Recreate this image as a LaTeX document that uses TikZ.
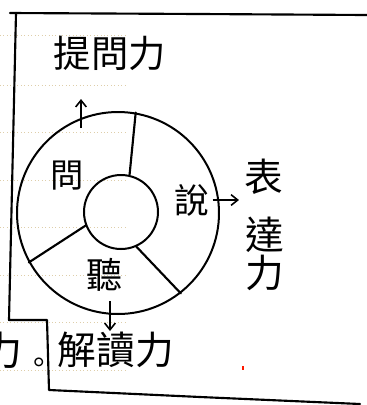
\documentclass[tikz,border=0pt]{standalone}
\usepackage{fontspec}
\newfontfamily\cjk{Noto Sans CJK TC}
\usetikzlibrary{arrows.meta}
\begin{document}
\begin{tikzpicture}[x=0.75pt,y=-0.75pt,
  ink/.style={line width=1.6pt,line cap=round,line join=round},
  ring/.style={circle,draw,line width=1.5pt,inner sep=0pt},
  lbl/.style={inner sep=0pt,font=\cjk\fontsize{#1}{#1}\selectfont},
  arr/.style={line width=1.2pt,-{Straight Barb[length=5pt,width=8pt]}},
  rule/.style={dotted,line width=0.6pt,draw={rgb,255:red,222;green,206;blue,170}}]
\useasboundingbox (0,0) rectangle (367,405);
% paper rules
\foreach \yy in {35,85,132,180,227,275,322,370}
  \draw[rule] (0,\yy) -- (125,\yy);
% frame
\draw[ink] (10,13) -- (200,14) -- (367,15);
\draw[ink] (16,13) -- (9,320) -- (47,320) -- (49,390) -- (200,397) -- (360,404);
% ring
\node[ring,minimum size=151.5pt] (outer) at (118,213) {};
\node[ring,minimum size=55.5pt] (inner) at (121,212) {};
\draw[ink] (inner.77) -- (outer.80);
\draw[ink] (inner.201) -- (outer.209);
\draw[ink] (inner.294) -- (outer.308);
% labels
\node[lbl=28pt] (tiwen) at (110,53) {提問力};
\node[lbl=25pt] (wen) at (67,176) {問};
\node[lbl=26pt] (shuo) at (192,200) {說};
\node[lbl=27pt] (ting) at (105,275) {聽};
\node[lbl=29pt] (biao) at (264,177) {表};
\node[lbl=29pt] (da) at (265,235) {達};
\node[lbl=29pt] (li) at (265,273) {力};
\node[lbl=29pt] (jie) at (116,350) {解讀力};
\node[lbl=30pt] (cutli) at (3,350) {力};
\node[lbl=22pt] (cutdot) at (39,366) {。};
% arrows
\coordinate (ua0) at (81,128);
\coordinate (ua1) at (81,99);
\draw[arr] (ua0) -- (ua1);
\coordinate (ra1) at (239,200);
\path (shuo.east) ++(3,0) coordinate (ra0);
\draw[arr] (ra0) -- (ra1);
\coordinate (da0) at (110,301);
\coordinate (da1) at (110,331);
\draw[arr] (da0) -- (da1);
% stray red mark
\draw[line width=0.8pt,red!80!orange] (243,366) -- (243,370);
\end{tikzpicture}
\end{document}
